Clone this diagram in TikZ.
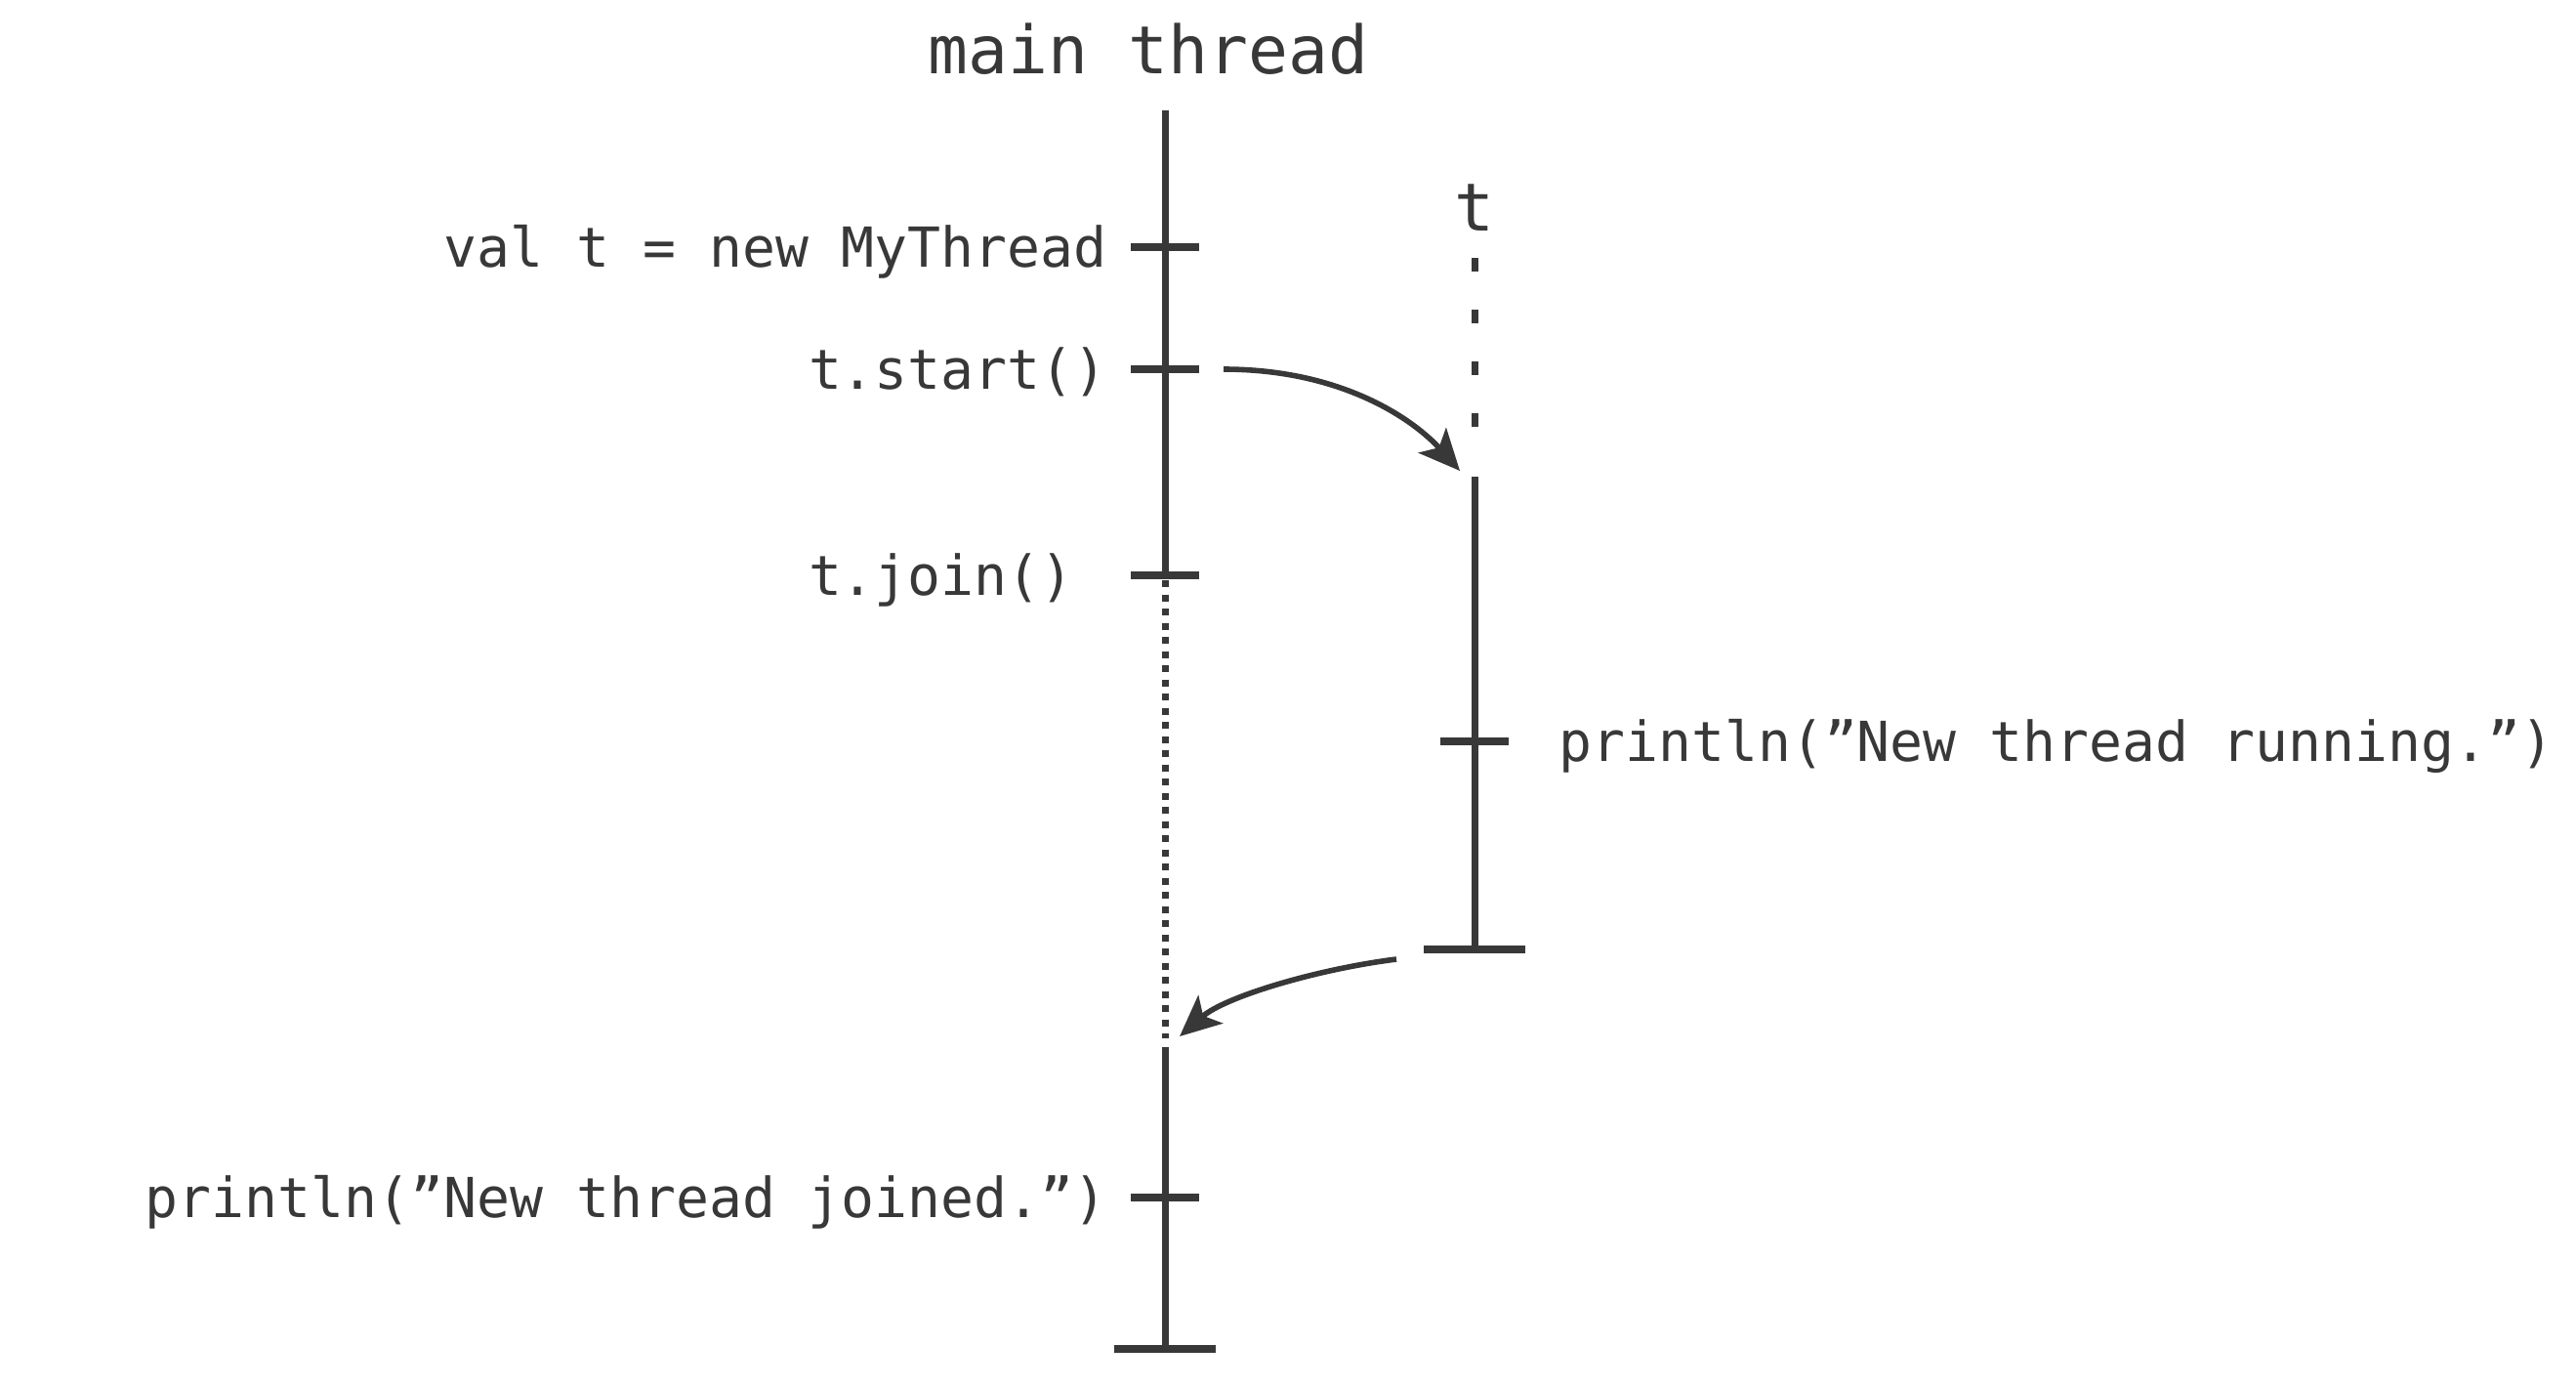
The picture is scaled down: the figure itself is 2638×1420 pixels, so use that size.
\documentclass[tikz,border=0pt]{standalone}
\usepackage{fontspec}
\newfontfamily\codefont{DejaVu Sans Mono}
\usetikzlibrary{arrows.meta}
\definecolor{ink}{HTML}{383838}

\tikzset{
  life/.style={ink, line width=3.5pt},
  tick/.style={ink, line width=4pt},
  waiting/.style={ink, line width=3.5pt, dash pattern=on 3.5pt off 3.75pt},
  unborn/.style={ink, line width=3.5pt, dash pattern=on 7pt off 19.5pt},
  code/.style={ink, font=\codefont\fontsize{28.2pt}{34pt}\selectfont,
               inner sep=0pt, text height=20.5pt, text depth=0pt},
  lane/.style={ink, font=\codefont\fontsize{34pt}{40pt}\selectfont, inner sep=0pt},
  hand/.style={ink, line width=2.8pt, -{Stealth[length=21pt, width=19pt, inset=5pt]}}
}

\begin{document}
\begin{tikzpicture}[x=0.5pt, y=-0.5pt]
\useasboundingbox (0,0) rectangle (2638,1420);

% main thread
\node (mainlabel) at (1176,75) [lane, anchor=base] {main thread};
\coordinate (mtop) at (1193,113);
\coordinate (mnew) at (1193,253);
\coordinate (mstart) at (1193,378);
\coordinate (mjoin) at (1193,589);
\coordinate (mwake) at (1193,1063);
\coordinate (mprint) at (1193,1226);
\coordinate (mend) at (1193,1381);
\draw [life] (mtop) -- (mjoin);
\draw [waiting] (mjoin) ++(0,5) -- (mwake);
\draw [life] (mwake) ++(0,9) -- (mend);
\foreach \p in {mnew, mstart, mjoin, mprint}
  \draw [tick] (\p) ++(-35,0) -- ++(70,0);
\draw [tick] (mend) ++(-52,0) -- ++(104,0);
\node (newtxt) at (1134,253) [code, anchor=east] {val t = new MyThread};
\node (starttxt) at (1134,378) [code, anchor=east] {t.start()};
\node (jointxt) at (starttxt.west |- mjoin) [code, anchor=west] {t.join()};
\node (joinedtxt) at (1134,1226) [code, anchor=east] {println(”New thread joined.”)};

% thread t
\node (tlabel) at (1510,236) [lane, anchor=base] {t};
\coordinate (ttop) at (1510,264);
\coordinate (trun) at (1510,488);
\coordinate (tprint) at (1510,759);
\coordinate (tend) at (1510,972);
\draw [unborn] (ttop) -- (1510,441);
\draw [life] (trun) -- (tend);
\draw [tick] (tprint) ++(-35,0) -- ++(70,0);
\draw [tick] (tend) ++(-52,0) -- ++(104,0);
\node (runtxt) at (1596,759) [code, anchor=west] {println(”New thread running.”)};

% hand-over arrows
\coordinate (startfrom) at (1253,378);
\coordinate (joinfrom) at (1430,982);
\draw [hand] (startfrom) .. controls (1375,378) and (1448,430) .. ([xshift=-7.5pt, yshift=3pt]trun);
\draw [hand] (joinfrom) .. controls (1350,992) and (1255,1020) .. ([xshift=7.5pt, yshift=1pt]mwake);
\end{tikzpicture}
\end{document}
